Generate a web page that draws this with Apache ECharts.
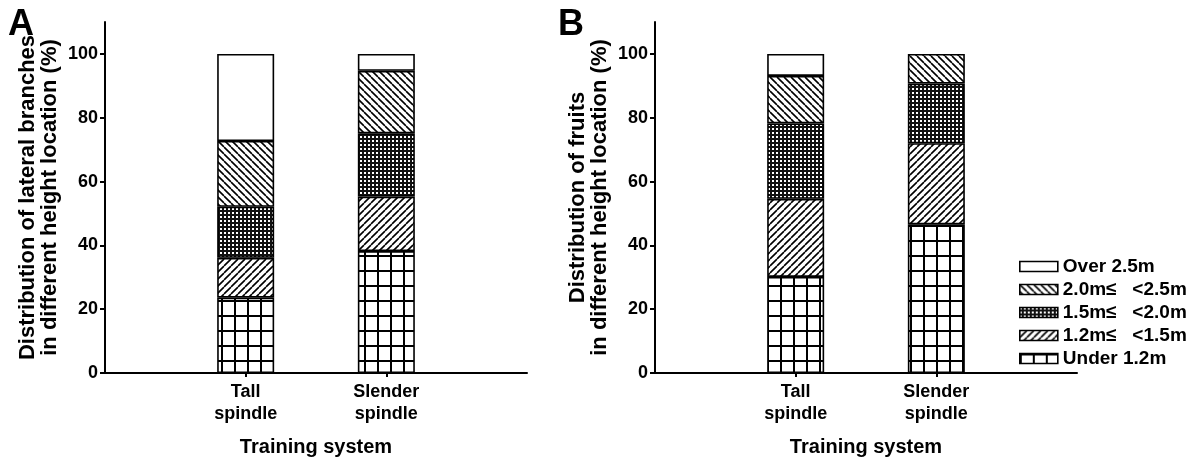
<!DOCTYPE html>
<html>
<head>
<meta charset="utf-8">
<script src="https://cdn.jsdelivr.net/npm/echarts@6/dist/echarts.min.js"></script>
<style>
  html, body { margin: 0; padding: 0; background: #fff; }
  #chart { width: 1195px; height: 463px; }
</style>
</head>
<body>
<div id="chart"></div>
<script>
// categories (training system)
var systems = ['Tall\nspindle', 'Slender\nspindle'];
// height classes, bottom of the stack first
var heights = ['Under 1.2m', '1.2m≤   <1.5m', '1.5m≤   <2.0m', '2.0m≤   <2.5m', 'Over 2.5m'];

// A: lateral branches (%) per height class, [Tall, Slender]
var branchUnder12 = [23.6, 38.2];
var branch12to15 = [12.5, 17.1];
var branch15to20 = [16.0, 19.8];
var branch20to25 = [20.6, 19.6];
var branchOver25 = [27.3, 5.3];

// B: fruits (%) per height class, [Tall, Slender]
var fruitUnder12 = [30.1, 46.6];
var fruit12to15 = [24.5, 25.4];
var fruit15to20 = [23.6, 18.7];
var fruit20to25 = [14.9, 9.3];
var fruitOver25 = [6.9, 0];

var yTicks = [0, 20, 40, 60, 80, 100];

var font = '"Liberation Sans", Arial, sans-serif';

// fill patterns
function tile(w, h, draw) {
    var c = document.createElement('canvas');
    c.width = w;
    c.height = h;
    var g = c.getContext('2d');
    g.fillStyle = '#fff';
    g.fillRect(0, 0, w, h);
    draw(g, w, h);
    return { image: c, repeat: 'repeat' };
}
function hatch(dir) {
    return tile(7, 7, function (g, s) {
        g.strokeStyle = '#000';
        g.lineWidth = 1.6;
        g.beginPath();
        for (var k = -1; k <= 1; k++) {
            if (dir > 0) {
                g.moveTo(k * s, s); g.lineTo(k * s + s, 0);
            } else {
                g.moveTo(k * s, 0); g.lineTo(k * s + s, s);
            }
        }
        g.stroke();
    });
}
var fills = [
    tile(13, 15, function (g, w, h) {
        g.fillStyle = '#000';
        g.fillRect(0, 0, 2, h);
        g.fillRect(0, 0, w, 2);
    }),
    hatch(1),
    tile(4, 4, function (g) {
        g.fillStyle = '#111';
        g.fillRect(0, 0, 4, 4);
        g.fillStyle = '#fff';
        g.fillRect(0, 0, 2, 2);
    }),
    hatch(-1),
    '#fff'
];

var dataA = [branchUnder12, branch12to15, branch15to20, branch20to25, branchOver25];
var dataB = [fruitUnder12, fruit12to15, fruit15to20, fruit20to25, fruitOver25];

// pad with empty slots so the bars sit at 1/3 and 2/3 of the axis
function pad(arr) {
    return ['-'].concat(arr.map(function (v) { return v === 0 ? '-' : v; })).concat(['-']);
}
var xCats = [''].concat(systems).concat(['']);

var series = [];
[dataA, dataB].forEach(function (set, p) {
    set.forEach(function (vals, i) {
        series.push({
            name: heights[i],
            type: 'bar',
            stack: 'p' + p,
            xAxisIndex: p,
            yAxisIndex: p,
            barWidth: 57,
            data: pad(vals),
            itemStyle: { color: fills[i], borderColor: '#000', borderWidth: 1.6 },
            emphasis: { disabled: true }
        });
    });
});

function xAxis(idx) {
    return {
        type: 'category',
        gridIndex: idx,
        data: xCats,
        boundaryGap: false,
        name: 'Training system',
        nameLocation: 'middle',
        nameGap: 64,
        nameTextStyle: { fontFamily: font, fontWeight: 'bold', fontSize: 20, color: '#000' },
        axisLine: { lineStyle: { color: '#000', width: 2 } },
        axisTick: {
            length: 4,
            lineStyle: { color: '#000', width: 2 },
            interval: function (i, v) { return v !== ''; }
        },
        axisLabel: {
            interval: 0,
            margin: 8,
            fontFamily: font, fontWeight: 'bold', fontSize: 18, lineHeight: 22, color: '#000'
        },
        splitLine: { show: false }
    };
}
function yAxis(idx, title) {
    return {
        type: 'value',
        gridIndex: idx,
        min: 0,
        max: 110,
        interval: 20,
        name: title,
        nameLocation: 'middle',
        nameGap: 44,
        nameTextStyle: { fontFamily: font, fontWeight: 'bold', fontSize: 22, lineHeight: 22, color: '#000' },
        axisLine: { show: true, lineStyle: { color: '#000', width: 2 } },
        axisTick: { show: true, length: 5, customValues: yTicks, lineStyle: { color: '#000', width: 2 } },
        axisLabel: {
            customValues: yTicks,
            margin: 7,
            fontFamily: font, fontWeight: 'bold', fontSize: 18, color: '#000'
        },
        splitLine: { show: false }
    };
}

var chart = echarts.init(document.getElementById('chart'));
var option = {
    backgroundColor: '#fff',
    animation: false,
    title: [
        { text: 'A', left: 3, top: 2, textStyle: { fontFamily: font, fontWeight: 'bold', fontSize: 36, color: '#000' } },
        { text: 'B', left: 553, top: 2, textStyle: { fontFamily: font, fontWeight: 'bold', fontSize: 36, color: '#000' } }
    ],
    legend: {
        orient: 'vertical',
        left: 1014,
        top: 252,
        data: heights.slice().reverse(),
        icon: 'rect',
        itemWidth: 38,
        itemHeight: 10,
        itemGap: 4,
        itemStyle: { borderColor: '#000', borderWidth: 1.6 },
        textStyle: { fontFamily: font, fontWeight: 'bold', fontSize: 19, lineHeight: 19, color: '#000' }
    },
    grid: [
        { left: 105, right: 668, top: 22, bottom: 90 },
        { left: 655, right: 118, top: 22, bottom: 90 }
    ],
    xAxis: [xAxis(0), xAxis(1)],
    yAxis: [
        yAxis(0, 'Distribution of lateral branches\nin different height location (%)'),
        yAxis(1, 'Distribution of fruits\nin different height location (%)')
    ],
    series: series
};
chart.setOption(option);
</script>
</body>
</html>
